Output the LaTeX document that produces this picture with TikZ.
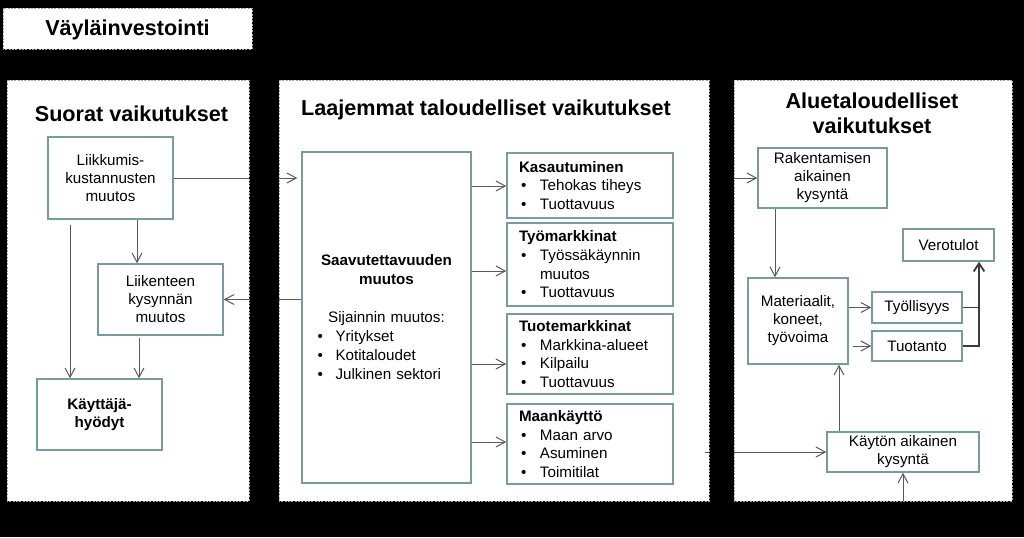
\documentclass[tikz,border=0pt]{standalone}
\usepackage{fontspec}
\setmainfont{Liberation Sans}
\usetikzlibrary{arrows.meta}
\definecolor{bxc}{RGB}{118,156,162}
\definecolor{lnc}{RGB}{89,89,89}
\definecolor{dlc}{RGB}{60,60,60}
\definecolor{pnc}{RGB}{165,165,165}
\tikzset{
 panel/.style={fill=white, draw=pnc, line width=0.6pt, dash pattern=on 1.5pt off 1pt},
 box/.style={draw=bxc, line width=1.1pt, fill=white, inner sep=0pt, font=\fontsize{11.4}{13.5}\selectfont},
 bullbox/.style={box, align=left, text width=106.5pt, font=\fontsize{11.4}{14}\selectfont},
 arr/.style={draw=lnc, line width=0.75pt, -{Straight Barb[length=7pt,width=7.5pt]}},
 ln/.style={draw=lnc, line width=0.75pt},
 darr/.style={draw=dlc, line width=1.4pt, -{Straight Barb[length=6pt,width=8pt]}},
 dln/.style={draw=dlc, line width=1.4pt},
 head/.style={font=\fontsize{16.2}{20}\selectfont\bfseries, inner sep=0pt, anchor=base}
}
\newcommand{\bx}[7]{\node[box,minimum width={(#4-#2)*0.75pt},minimum height={(#5-#3)*0.75pt},#6] (#1) at ({(#2+#4)/2},{(#3+#5)/2}) {#7};}
\newcommand{\bl}[1]{\hspace*{1.5pt}\makebox[14.25pt][l]{\textbullet}#1}
\newcommand{\sbl}[1]{\makebox[126pt][l]{\hspace*{11.25pt}\makebox[13.5pt][l]{\textbullet}#1}}
\begin{document}
\begin{tikzpicture}[x=0.75pt,y=-0.75pt]
\useasboundingbox (0,0) rectangle (1024,537);
\fill[black] (0,0) rectangle (1024,537);
% title and panels
\draw[panel] (3,8) rectangle (252,49);
\node[head] (title) at (127.5,35) {Väyläinvestointi};
\draw[panel] (7,80) rectangle (249,501);
\draw[panel] (279,80) rectangle (709,501);
\draw[panel] (734,80) rectangle (1012,501);
\node[head] (h1) at (131.5,121) {Suorat vaikutukset};
\node[head] (h2) at (486,115) {Laajemmat taloudelliset vaikutukset};
\node[head] (h3a) at (872,108) {Aluetaloudelliset};
\node[head] (h3b) at (872,133) {vaikutukset};
% panel 1
\bx{lk}{48}{137}{173}{219}{align=center}{Liikkumis-\\kustannusten\\muutos}
\bx{lt}{98}{264}{223}{335}{align=center}{Liikenteen\\kysynnän\\muutos}
\bx{kh}{37}{379}{162}{450}{align=center,font=\fontsize{11.4}{13.5}\selectfont\bfseries}{Käyttäjä-\\hyödyt}
% panel 2
\bx{sv}{302}{152}{471}{483}{align=center,text width=126pt,font=\fontsize{11.4}{14.25}\selectfont}{\textbf{Saavutettavuuden}\\\textbf{muutos}\\[14.25pt]Sijainnin muutos:\\\sbl{Yritykset}\\\sbl{Kotitaloudet}\\\sbl{Julkinen sektori}}
\bx{ks}{507}{153}{673}{218}{bullbox}{\textbf{Kasautuminen}\\\bl{Tehokas tiheys}\\\bl{Tuottavuus}}
\bx{tm}{507}{223}{673}{306}{bullbox}{\textbf{Työmarkkinat}\\\bl{Työssäkäynnin}\\\hspace*{15.75pt}muutos\\\bl{Tuottavuus}}
\bx{tu}{507}{314}{673}{394}{bullbox}{\textbf{Tuotemarkkinat}\\\bl{Markkina-alueet}\\\bl{Kilpailu}\\\bl{Tuottavuus}}
\bx{mk}{507}{404}{673}{484}{bullbox}{\textbf{Maankäyttö}\\\bl{Maan arvo}\\\bl{Asuminen}\\\bl{Toimitilat}}
% panel 3
\bx{rk}{758}{148}{887}{208}{align=center}{Rakentamisen\\aikainen\\kysyntä}
\bx{vt}{903}{229}{994}{261}{}{Verotulot}
\bx{mt}{748}{278}{848}{364}{align=center}{Materiaalit,\\koneet,\\työvoima}
\bx{ty}{872}{292}{962}{323}{}{Työllisyys}
\bx{to}{872}{331}{962}{361}{}{Tuotanto}
\bx{ka}{827}{432}{979}{472}{align=center}{Käytön aikainen\\kysyntä}
% connectors (visible only on the panels)
\coordinate (inR) at (712,178);
\coordinate (inK) at (705,452);
\coordinate (inB) at (903,515);
\begin{scope}
\clip (7,80) rectangle (249,501) (279,80) rectangle (709,501) (734,80) rectangle (1012,501);
\draw[arr, shorten >=3pt] (lk.east) -- (sv.west |- lk.east);
\draw[arr] (sv.west |- lt.east) -- (lt.east);
\draw[arr] (lk.south -| 137,0) -- (lt.north -| 137,0);
\draw[arr, shorten <=4pt] (lk.south -| 70,0) -- (kh.north -| 70,0);
\draw[arr, shorten <=1.5pt] (lt.south -| 139,0) -- (kh.north -| 139,0);
\draw[arr] (sv.east |- 0,186) -- (ks.west |- 0,186);
\draw[arr] (sv.east |- 0,271) -- (tm.west |- 0,271);
\draw[arr] (sv.east |- 0,364) -- (tu.west |- 0,364);
\draw[arr] (sv.east |- 0,442) -- (mk.west |- 0,442);
\draw[arr] (inR) -- (rk.west |- inR);
\draw[arr] (inK) -- (ka.west |- inK);
\draw[arr] (inB) -- (ka.south -| inB);
\draw[arr] (rk.south -| 775,0) -- (mt.north -| 775,0);
\draw[arr] (ka.north -| 839,0) -- (mt.south -| 839,0);
\draw[arr] (mt.east |- ty.west) -- (ty.west);
\draw[arr, shorten <=3pt] (mt.east |- to.west) -- (to.west);
\draw[dln] (ty.east) -- (ty.east -| 979,0);
\draw[darr] (to.east) -- (to.east -| 979,0) -- (vt.south -| 979,0);
\end{scope}
\end{tikzpicture}
\end{document}
